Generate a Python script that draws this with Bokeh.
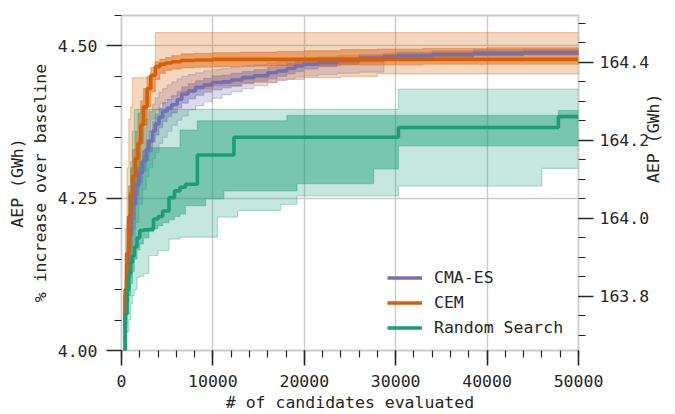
import math
from bokeh.plotting import figure
from bokeh.models import (Range1d, LinearAxis, SingleIntervalTicker, PrintfTickFormatter)
from bokeh.embed import file_html
from bokeh.resources import INLINE

# ---------------- data ----------------
cma_x = [200, 400, 600, 800, 1100, 1500, 1900, 2300, 2700, 3000, 3400, 3700, 4100, 4500, 5000,
         5500, 6100, 6600, 7300, 8100, 9000, 9900, 11000, 12000, 13200, 14500, 16000, 17000,
         18100, 19000, 19900, 21500, 23600, 26000, 28700, 30200, 34000, 38500, 44000, 50000]
cma_med = [4.040, 4.090, 4.140, 4.190, 4.240, 4.272, 4.292, 4.311, 4.330, 4.344, 4.360, 4.372, 4.383,
           4.393, 4.398, 4.404, 4.412, 4.421, 4.426, 4.432, 4.436, 4.440, 4.441, 4.444, 4.448, 4.451,
           4.456, 4.459, 4.463, 4.467, 4.470, 4.473, 4.476, 4.480, 4.482, 4.484, 4.486, 4.488, 4.489, 4.490]
cma_q25 = [4.020, 4.065, 4.110, 4.160, 4.215, 4.255, 4.275, 4.295, 4.312, 4.326, 4.342, 4.354, 4.366,
           4.376, 4.384, 4.390, 4.398, 4.406, 4.413, 4.419, 4.424, 4.428, 4.431, 4.434, 4.438, 4.442,
           4.446, 4.450, 4.454, 4.458, 4.462, 4.466, 4.470, 4.474, 4.477, 4.479, 4.482, 4.484, 4.486, 4.487]
cma_q75 = [4.060, 4.115, 4.170, 4.215, 4.262, 4.290, 4.310, 4.328, 4.346, 4.360, 4.376, 4.388, 4.398,
           4.407, 4.412, 4.418, 4.425, 4.433, 4.438, 4.443, 4.447, 4.451, 4.452, 4.455, 4.458, 4.461,
           4.465, 4.468, 4.471, 4.474, 4.477, 4.479, 4.481, 4.484, 4.486, 4.488, 4.490, 4.492, 4.493, 4.494]
cma_min = [4.000, 4.040, 4.080, 4.120, 4.160, 4.210, 4.240, 4.265, 4.285, 4.300, 4.315, 4.325, 4.340,
           4.350, 4.360, 4.370, 4.378, 4.385, 4.395, 4.402, 4.408, 4.414, 4.420, 4.425, 4.430, 4.435,
           4.440, 4.443, 4.446, 4.449, 4.451, 4.453, 4.455, 4.457, 4.478, 4.480, 4.482, 4.484, 4.485, 4.486]
cma_max = [4.090, 4.160, 4.220, 4.270, 4.300, 4.330, 4.350, 4.365, 4.380, 4.392, 4.404, 4.415, 4.424,
           4.430, 4.436, 4.441, 4.446, 4.450, 4.453, 4.456, 4.459, 4.461, 4.463, 4.465, 4.467, 4.469,
           4.472, 4.474, 4.476, 4.478, 4.480, 4.482, 4.484, 4.486, 4.488, 4.490, 4.492, 4.494, 4.495, 4.496]

cem_x = [200, 400, 600, 800, 1000, 1200, 1500, 1800, 2100, 2400, 2800, 3200, 3700, 4200, 4800,
         5500, 6500, 8000, 10000, 13000, 17000, 20000, 24000, 28000, 33000, 40000, 50000]
cem_med = [4.040, 4.100, 4.160, 4.220, 4.255, 4.285, 4.315, 4.340, 4.370, 4.400, 4.430, 4.452, 4.466,
           4.470, 4.472, 4.474, 4.476, 4.477, 4.478, 4.478, 4.478, 4.478, 4.478, 4.478, 4.478, 4.478, 4.478]
cem_q25 = [4.020, 4.070, 4.130, 4.180, 4.220, 4.250, 4.285, 4.310, 4.340, 4.370, 4.400, 4.425, 4.445,
           4.455, 4.460, 4.462, 4.464, 4.465, 4.466, 4.467, 4.468, 4.468, 4.469, 4.469, 4.470, 4.470, 4.470]
cem_q75 = [4.070, 4.140, 4.210, 4.260, 4.300, 4.330, 4.360, 4.390, 4.410, 4.430, 4.450, 4.465, 4.474,
           4.478, 4.481, 4.484, 4.487, 4.488, 4.489, 4.490, 4.491, 4.492, 4.494, 4.495, 4.496, 4.497, 4.497]
cem_min = [4.000, 4.030, 4.080, 4.130, 4.170, 4.200, 4.240, 4.270, 4.300, 4.330, 4.360, 4.380, 4.395,
           4.405, 4.412, 4.418, 4.425, 4.430, 4.435, 4.440, 4.445, 4.448, 4.450, 4.454, 4.454, 4.454, 4.454]
cem_max = [4.100, 4.200, 4.300, 4.380, 4.400, 4.448, 4.448, 4.448, 4.448, 4.448, 4.448, 4.448, 4.522,
           4.522, 4.522, 4.522, 4.522, 4.522, 4.522, 4.522, 4.522, 4.522, 4.522, 4.522, 4.522, 4.522, 4.522]

rs_x = [200, 400, 600, 800, 1000, 1200, 1400, 1700, 2000, 2400, 3000, 3500, 4000, 4500, 5200, 5800,
        6400, 7000, 8300, 9200, 10500, 11200, 12300, 12700, 17400, 18100, 19200, 27600, 30300,
        46000, 47800, 50000]
rs_med = [4.000, 4.060, 4.100, 4.126, 4.145, 4.155, 4.170, 4.185, 4.197, 4.198, 4.199, 4.216, 4.220,
          4.229, 4.251, 4.262, 4.268, 4.273, 4.321, 4.321, 4.321, 4.321, 4.350, 4.350, 4.350, 4.350,
          4.350, 4.350, 4.366, 4.366, 4.384, 4.384]
rs_q25 = [4.000, 4.030, 4.060, 4.090, 4.110, 4.130, 4.150, 4.165, 4.175, 4.185, 4.195, 4.200, 4.205,
          4.210, 4.215, 4.220, 4.224, 4.238, 4.238, 4.249, 4.249, 4.262, 4.262, 4.262, 4.262, 4.262,
          4.274, 4.298, 4.336, 4.336, 4.336, 4.336]
rs_q75 = [4.020, 4.080, 4.140, 4.190, 4.230, 4.260, 4.280, 4.300, 4.310, 4.320, 4.333, 4.333, 4.333,
          4.333, 4.333, 4.333, 4.362, 4.362, 4.377, 4.377, 4.377, 4.377, 4.377, 4.377, 4.377, 4.386,
          4.386, 4.386, 4.386, 4.386, 4.394, 4.394]
rs_min = [4.000, 4.000, 4.030, 4.050, 4.077, 4.090, 4.100, 4.120, 4.122, 4.126, 4.156, 4.156, 4.164,
          4.164, 4.183, 4.183, 4.186, 4.186, 4.186, 4.186, 4.219, 4.219, 4.219, 4.230, 4.240, 4.240,
          4.254, 4.254, 4.270, 4.299, 4.299, 4.299]
rs_max = [4.050, 4.120, 4.200, 4.270, 4.310, 4.360, 4.396, 4.396, 4.396, 4.396, 4.396, 4.396, 4.396,
          4.396, 4.396, 4.396, 4.396, 4.396, 4.396, 4.396, 4.396, 4.396, 4.396, 4.396, 4.396, 4.396,
          4.396, 4.396, 4.429, 4.429, 4.429, 4.429]

series_names = ["CMA-ES", "CEM", "Random Search"]
series_colors = ["#7570b3", "#d95f02", "#1b9e77"]

x_ticks_interval = 10000
pct_range = (4.0, 4.55)
aep_range = (163.661, 164.520)

x_label = "# of candidates evaluated"
left_label = "AEP (GWh)\n% increase over baseline"
right_label = "AEP (GWh)"

# ---------------- figure ----------------
FONT = "DejaVu Sans Mono"
FS = "16.5px"
TXT = "#262626"

p = figure(width=675, height=414, output_backend="svg", toolbar_location=None,
           x_range=Range1d(0, 50000), y_range=Range1d(*pct_range),
           min_border_left=121, min_border_right=97, min_border_top=15, min_border_bottom=64)
p.background_fill_color = "white"
p.border_fill_color = "white"
p.outline_line_color = "#cccccc"
p.outline_line_width = 1.8

p.extra_y_ranges = {"aep": Range1d(*aep_range)}

xt = SingleIntervalTicker(interval=x_ticks_interval, num_minor_ticks=5)
yt = SingleIntervalTicker(interval=0.25, num_minor_ticks=5)
p.xaxis.ticker = xt
p.yaxis.ticker = yt
p.xgrid.ticker = xt
p.ygrid.ticker = yt
p.xaxis.formatter = PrintfTickFormatter(format="%d")
p.yaxis.formatter = PrintfTickFormatter(format="%.2f")
for g in (p.xgrid, p.ygrid):
    g.grid_line_color = "#cccccc"
    g.grid_line_width = 1.4

right = LinearAxis(y_range_name="aep", ticker=SingleIntervalTicker(interval=0.2, num_minor_ticks=4),
                   formatter=PrintfTickFormatter(format="%.1f"))
p.add_layout(right, "right")

for ax in [p.xaxis[0], p.yaxis[0], right]:
    ax.axis_line_color = None
    ax.major_tick_line_color = TXT
    ax.minor_tick_line_color = TXT
    ax.major_tick_line_width = 1.6
    ax.minor_tick_line_width = 1.2
    ax.major_tick_out = 15
    ax.major_tick_in = 0
    ax.minor_tick_out = 7
    ax.minor_tick_in = 0
    ax.major_label_text_font = FONT
    ax.major_label_text_font_size = FS
    ax.major_label_text_color = TXT
    ax.axis_label_text_font = FONT
    ax.axis_label_text_font_size = FS
    ax.axis_label_text_color = TXT
    ax.axis_label_text_font_style = "normal"

p.xaxis.major_label_standoff = 9
p.yaxis.major_label_standoff = 9
right.major_label_standoff = 6

p.xaxis.axis_label = x_label
p.xaxis.axis_label_standoff = 3
p.yaxis.axis_label = left_label
p.yaxis.axis_label_standoff = 5
right.axis_label = right_label
right.axis_label_standoff = 1
if "axis_label_orientation" in right.properties():
    right.axis_label_orientation = math.pi / 2

# ---------------- bands ----------------
data = [
    (cma_x, cma_med, cma_q25, cma_q75, cma_min, cma_max),
    (cem_x, cem_med, cem_q25, cem_q75, cem_min, cem_max),
    (rs_x, rs_med, rs_q25, rs_q75, rs_min, rs_max),
]
for (xs, med, q25, q75, lo, hi), col in zip(data, series_colors):
    p.varea_step(x=xs, y1=lo, y2=hi, step_mode="after", fill_color=col, fill_alpha=0.25)
    for b in (lo, hi):
        p.step(xs, b, mode="after", line_color=col, line_alpha=0.3, line_width=1.2)
    p.varea_step(x=xs, y1=q25, y2=q75, step_mode="after", fill_color=col, fill_alpha=0.45)
    for b in (q25, q75):
        p.step(xs, b, mode="after", line_color=col, line_alpha=0.35, line_width=1.2)

for (xs, med, q25, q75, lo, hi), col, name in zip(data, series_colors, series_names):
    p.step(xs, med, mode="after", line_color=col, line_width=3.6, legend_label=name)

lg = p.legend[0]
lg.location = (266, 10)
lg.background_fill_alpha = 0
lg.border_line_alpha = 0
lg.label_text_font = FONT
lg.label_text_font_size = FS
lg.label_text_color = TXT
lg.glyph_width = 35
lg.glyph_height = 25
lg.label_height = 25
lg.spacing = 0
lg.padding = 0
lg.margin = 0
lg.label_standoff = 12

open("out.html", "w").write(file_html(p, INLINE))
